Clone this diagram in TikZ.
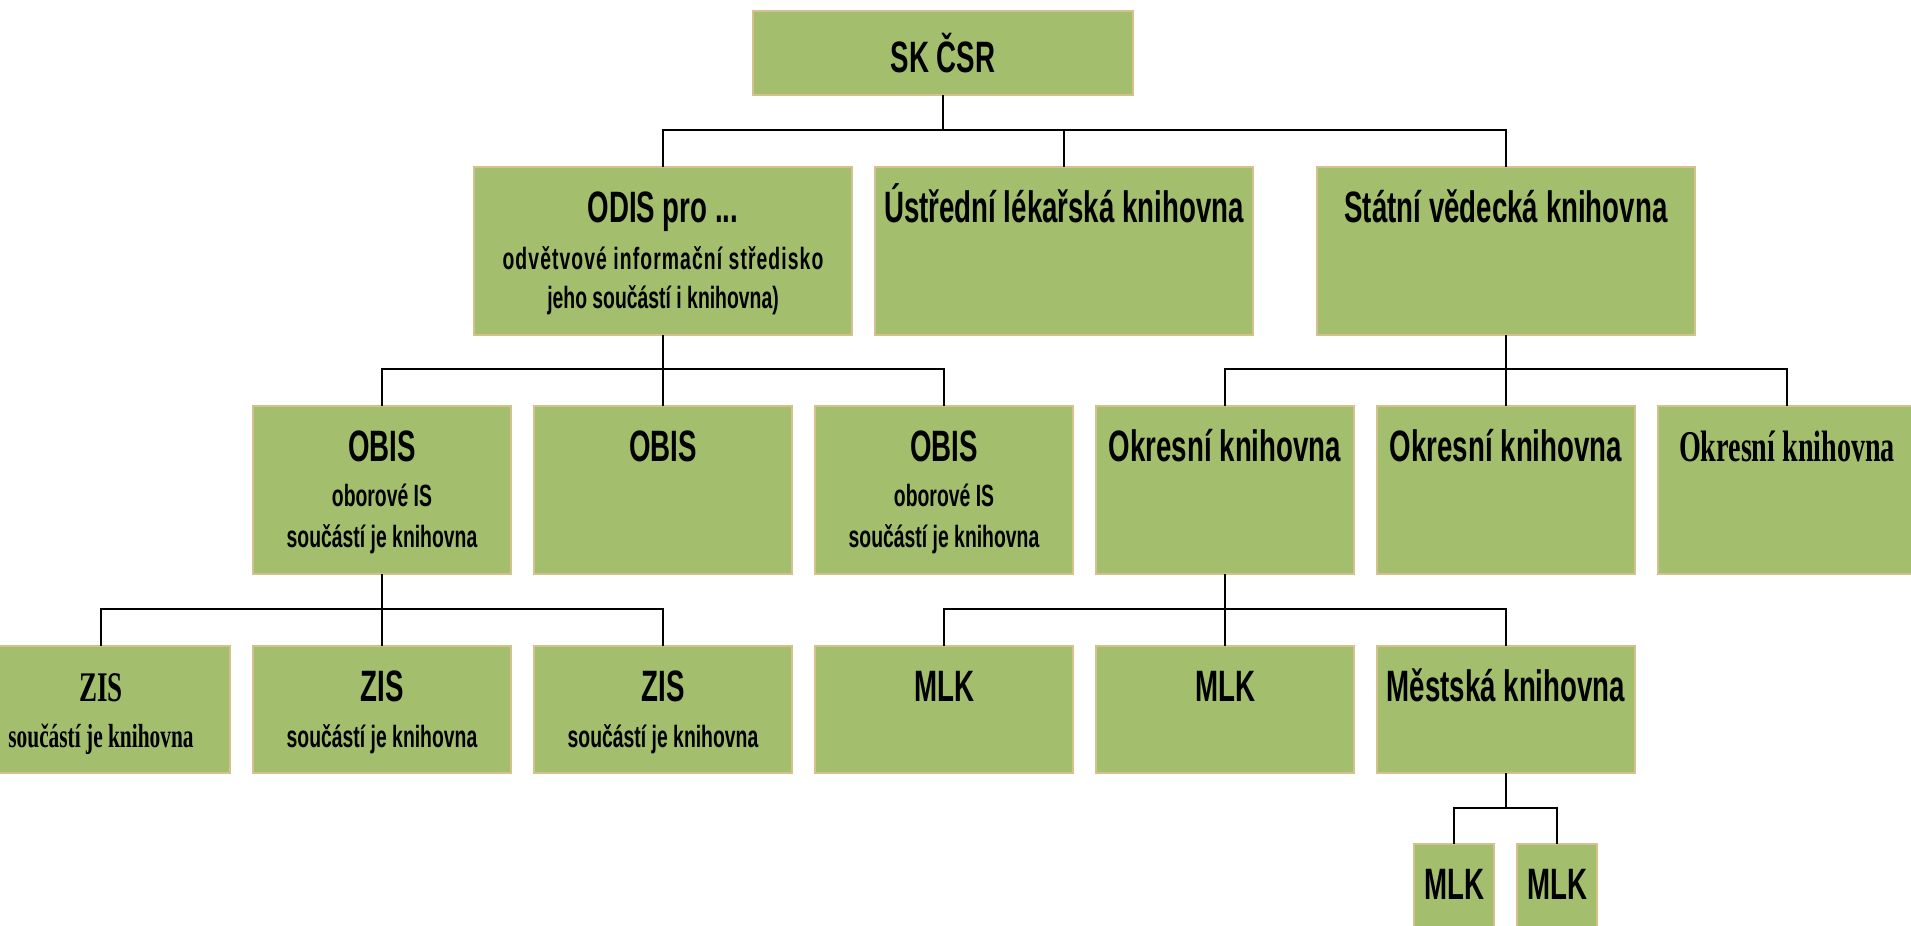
\documentclass[tikz,border=0pt]{standalone}
\usepackage{fontspec}
\setmainfont{Liberation Sans}[FakeStretch=0.63]
\newfontfamily\serifnarrow{Liberation Serif}[FakeStretch=0.64]
\usetikzlibrary{positioning}

\definecolor{unitfill}{HTML}{A3BE6C}
\definecolor{unitline}{HTML}{D4C28E}
\newcommand\titlefont{\fontsize{25}{30}\bfseries\selectfont}
\newcommand\subfont{\fontsize{17.5}{22.8}\bfseries\selectfont}
\newcommand\serifat[1]{\serifnarrow\fontsize{#1}{22.8}\selectfont}

\begin{document}
\begin{tikzpicture}[%
    node distance=1.44cm and 0.46cm, % Global setup of box spacing
    ]
% -------------------------------------------------
% Box and line styles
\tikzset{
  unit/.style={draw=unitline, fill=unitfill, line width=1.1pt, anchor=north,
    minimum width=5.16cm, minimum height=3.36cm, inner sep=0pt, outer sep=0pt},
  wide/.style={unit, minimum width=7.56cm},
  low/.style={unit, minimum height=2.54cm},
  title/.style={label={[titletext]north:{#1}}},
  sub/.style={label={[subtext]north:{#1}}},    % one line below the title
  subb/.style={label={[subtext, yshift=-0.8cm]north:{#1}}}, % two lines
  titletext/.style={anchor=base, yshift=-1.1cm, font=\titlefont},
  subtext/.style={anchor=base, yshift=-2.02cm, align=center, font=\subfont},
  link/.style={draw=black, line width=1.3pt}
}
\useasboundingbox (0,0) rectangle (38.22,-18.5);
\clip (0,0) rectangle (38.22,-18.5);
% -------------------------------------------------
% Top
\node [unit, minimum width=7.6cm, minimum height=1.68cm, font=\titlefont] (sk) at (18.86,-0.22) {SK ČSR};

% Second row
\node [wide, title={ODIS pro ...},
  subb={{\addfontfeature{LetterSpace=3.5}odvětvové informační středisko}\\[-0.8pt]jeho součástí i knihovna)}] (odis) at (13.26,-3.34) {};
\node [wide, title={Ústřední lékařská knihovna}] (ulk) at (21.28,-3.34) {};
\node [wide, title={Státní vědecká knihovna}] (svk) at (30.12,-3.34) {};

% Third row
\node [unit, title=OBIS, subb={oborové IS\\součástí je knihovna}] (obis1) at (7.64,-8.12) {};
\node [unit, title=OBIS, right=of obis1] (obis2) {};
\node [unit, title=OBIS, subb={oborové IS\\součástí je knihovna}, right=of obis2] (obis3) {};
\node [unit, title={Okresní knihovna}, right=of obis3] (ok1) {};
\node [unit, title={Okresní knihovna}, right=of ok1] (ok2) {};
\node [unit, title={\serifat{25}Okresní knihovna}, right=of ok2] (ok3) {};

% Fourth row
\node [low, title={\serifat{24}ZIS}, sub={\serifat{19}součástí je knihovna}] (zis1) at (2.02,-12.92) {};
\node [low, title=ZIS, sub={součástí je knihovna}, below=of obis1] (zis2) {};
\node [low, title=ZIS, sub={součástí je knihovna}, below=of obis2] (zis3) {};
\node [low, title=MLK, below=of obis3] (mlk1) {};
\node [low, title=MLK, below=of ok1] (mlk2) {};
\node [low, title={Městská knihovna}, below=of ok2] (mk) {};

% Fifth row
\node [low, minimum width=1.6cm, title=MLK] (mlk3) at (29.08,-16.88) {};
\node [low, minimum width=1.6cm, title=MLK] (mlk4) at (31.14,-16.88) {};

% -------------------------------------------------
% Connectors
\draw[link] (sk.south) -- ++(0,-0.7) -| (odis.north);
\draw[link] (sk.south) -- ++(0,-0.7) -| (ulk.north);
\draw[link] (sk.south) -- ++(0,-0.7) -| (svk.north);

\draw[link] (odis.south) -- ++(0,-0.68) -| (obis1.north);
\draw[link] (odis.south) -- ++(0,-0.68) -| (obis2.north);
\draw[link] (odis.south) -- ++(0,-0.68) -| (obis3.north);

\draw[link] (svk.south) -- ++(0,-0.68) -| (ok1.north);
\draw[link] (svk.south) -- ++(0,-0.68) -| (ok2.north);
\draw[link] (svk.south) -- ++(0,-0.68) -| (ok3.north);

\draw[link] (obis1.south) -- ++(0,-0.7) -| (zis1.north);
\draw[link] (obis1.south) -- ++(0,-0.7) -| (zis2.north);
\draw[link] (obis1.south) -- ++(0,-0.7) -| (zis3.north);

\draw[link] (ok1.south) -- ++(0,-0.7) -| (mlk1.north);
\draw[link] (ok1.south) -- ++(0,-0.7) -| (mlk2.north);
\draw[link] (ok1.south) -- ++(0,-0.7) -| (mk.north);

\draw[link] (mk.south) -- ++(0,-0.7) -| (mlk3.north);
\draw[link] (mk.south) -- ++(0,-0.7) -| (mlk4.north);
% -------------------------------------------------
\end{tikzpicture}
\end{document}
